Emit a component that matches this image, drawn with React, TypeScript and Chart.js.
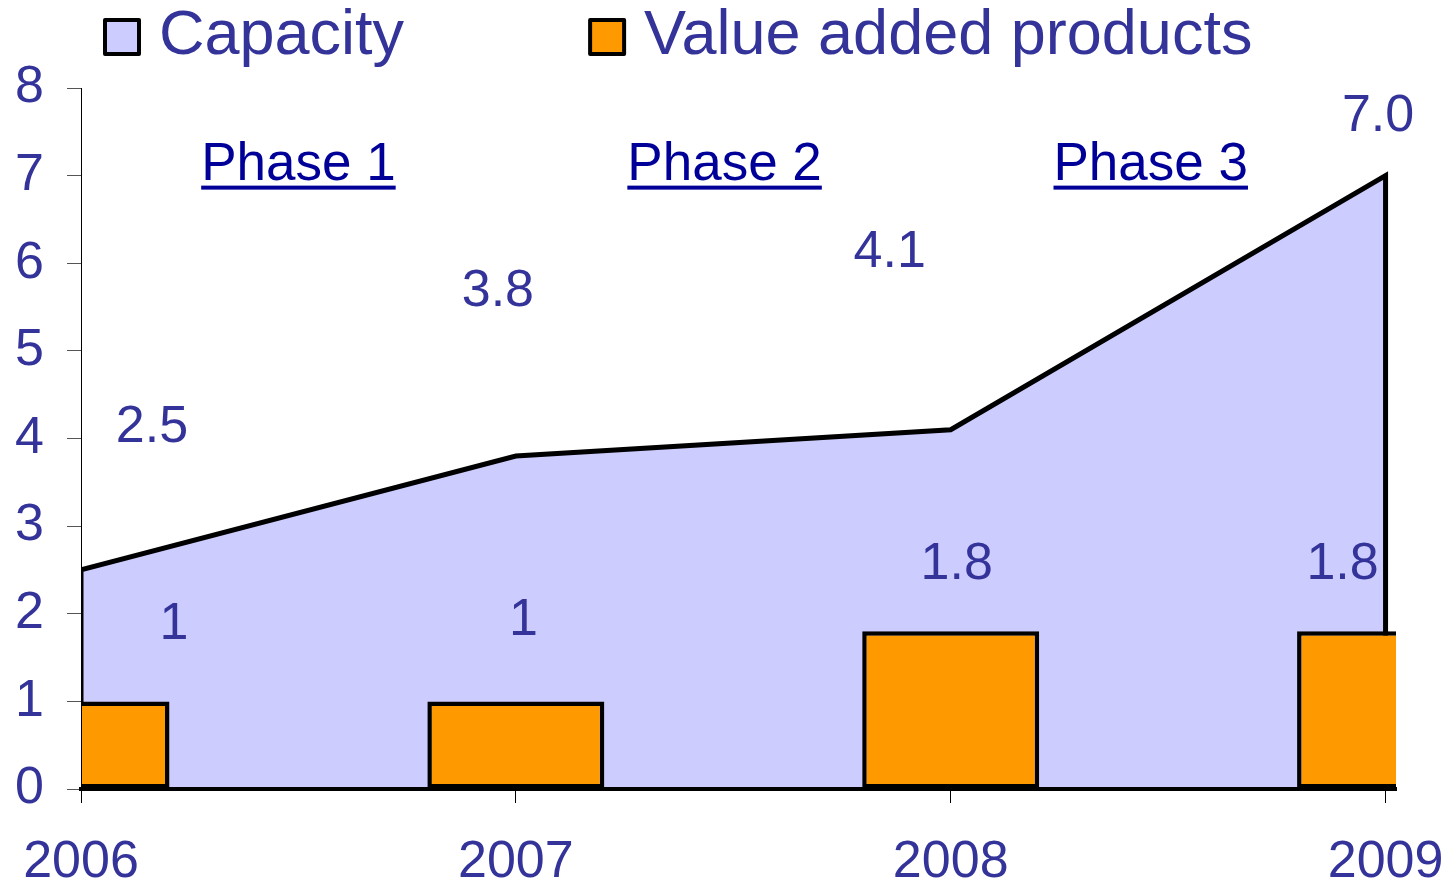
import { useEffect, useRef } from 'react';
import { Chart, registerables } from 'chart.js';

Chart.register(...registerables);

// ---- data ----
const years = [2006, 2007, 2008, 2009];
const capacity = [2.5, 3.8, 4.1, 7.0];
const valueAdded = [1, 1, 1.8, 1.8];
const seriesNames = ['Capacity', 'Value added products'];
const yTickValues = [0, 1, 2, 3, 4, 5, 6, 7, 8];
const phaseNames = ['Phase 1', 'Phase 2', 'Phase 3'];
const phaseCentres = [2006.5, 2007.48, 2008.46];

// ---- style ----
const FONT = "'Liberation Sans', Arial, Helvetica, sans-serif";
const TEXT = '#333399';
const PHASE = '#000099';
const AREA = '#CCCCFF';
const BAR = '#FF9900';
// label offsets (px) from their mark
const capacityLabelOffsets = [[71, -146], [-18, -169], [-61, -181], [-7.5, -63]];
const valueLabelOffsets = [[93, -81], [7.5, -85], [6, -71], [-43, -71]];

const labelsPlugin = {
  id: 'valueLabels',
  afterDatasetsDraw(chart: any) {
    const { ctx, scales } = chart;
    const xs = scales.x;
    const ys = scales.y;
    ctx.save();
    ctx.font = `52px ${FONT}`;
    ctx.fillStyle = TEXT;
    ctx.textAlign = 'center';
    ctx.textBaseline = 'alphabetic';
    years.forEach((yr, i) => {
      const px = xs.getPixelForValue(yr);
      const pc = ys.getPixelForValue(capacity[i]);
      ctx.fillText(capacity[i].toFixed(1), px + capacityLabelOffsets[i][0], pc + capacityLabelOffsets[i][1] + 18.5);
      const pv = ys.getPixelForValue(valueAdded[i]);
      ctx.fillText(String(valueAdded[i]), px + valueLabelOffsets[i][0], pv + valueLabelOffsets[i][1] + 18.5);
    });
    // phase captions
    ctx.fillStyle = PHASE;
    ctx.font = `53px ${FONT}`;
    const base = ys.getPixelForValue(7) + 4;
    phaseNames.forEach((name, i) => {
      const cx = xs.getPixelForValue(phaseCentres[i]);
      ctx.fillText(name, cx, base);
      const w = ctx.measureText(name).width;
      ctx.fillRect(cx - w / 2, base + 6, w, 4);
    });
    ctx.restore();
  },
};

const legendPlugin = {
  id: 'boxLegend',
  afterDraw(chart: any) {
    const { ctx } = chart;
    ctx.save();
    let x = 103;
    const top = 18;
    const size = 38;
    chart.data.datasets.forEach((ds: any) => {
      ctx.fillStyle = ds.backgroundColor;
      ctx.strokeStyle = '#000';
      ctx.lineWidth = 4;
      ctx.lineJoin = 'round';
      ctx.fillRect(x + 2, top + 2, size - 4, size - 4);
      ctx.strokeRect(x + 2, top + 2, size - 4, size - 4);
      ctx.font = `63px ${FONT}`;
      ctx.fillStyle = TEXT;
      ctx.textAlign = 'left';
      ctx.textBaseline = 'alphabetic';
      const tx = x + size + 18;
      ctx.fillText(ds.label, tx, 54);
      x = tx + ctx.measureText(ds.label).width + 184;
    });
    ctx.restore();
  },
};

export default function App() {
  const ref = useRef<HTMLCanvasElement | null>(null);
  useEffect(() => {
    if (!ref.current) return;
    const capacityPoints = [
      { x: years[0], y: 0 },
      ...years.map((yr, i) => ({ x: yr, y: capacity[i] })),
      { x: years[years.length - 1], y: 0 },
    ];
    const chart = new Chart(ref.current, {
      type: 'bar',
      data: {
        datasets: [
          {
            type: 'line',
            label: seriesNames[0],
            data: capacityPoints,
            backgroundColor: AREA,
            borderColor: '#000',
            borderWidth: 5,
            borderJoinStyle: 'miter',
            fill: 'origin',
            pointRadius: 0,
            tension: 0,
            clip: 0,
            order: 2,
          } as any,
          {
            type: 'bar',
            label: seriesNames[1],
            data: years.map((yr, i) => ({ x: yr, y: valueAdded[i] })),
            backgroundColor: BAR,
            borderColor: '#000',
            borderWidth: 4.5,
            borderSkipped: false,
            barPercentage: 1,
            categoryPercentage: 0.407,
            clip: 0,
            order: 1,
          } as any,
        ],
      },
      options: {
        animation: false,
        responsive: true,
        maintainAspectRatio: false,
        events: [],
        layout: { padding: { top: 88, right: 56, bottom: 0, left: 0 } },
        plugins: { legend: { display: false }, tooltip: { enabled: false } },
        scales: {
          x: {
            type: 'linear',
            offset: false,
            min: 2006,
            max: 2009.024,
            afterBuildTicks: (s: any) => {
              s.ticks = years.map((v) => ({ value: v }));
            },
            afterFit: (s: any) => {
              s.height = 94;
              s.paddingLeft = 0;
              s.paddingRight = 0;
            },
            grid: { offset: false, drawOnChartArea: false, drawTicks: true, tickLength: 14, color: '#000', lineWidth: 1 },
            border: { display: true, color: '#000', width: 4, z: 1 },
            ticks: {
              padding: 28,
              color: TEXT,
              font: { family: FONT, size: 52 },
              maxRotation: 0,
              autoSkip: false,
              callback: (v: any) => String(v),
            },
          },
          y: {
            type: 'linear',
            min: 0,
            max: 8,
            afterBuildTicks: (s: any) => {
              s.ticks = yTickValues.map((v) => ({ value: v }));
            },
            afterFit: (s: any) => {
              s.width = 81;
              s.paddingTop = 0;
              s.paddingBottom = 0;
            },
            grid: { drawOnChartArea: false, drawTicks: true, tickLength: 14, color: '#555', lineWidth: 1 },
            border: { display: true, color: '#000', width: 1, z: 1 },
            ticks: {
              padding: 23,
              color: TEXT,
              font: { family: FONT, size: 52 },
              callback: (v: any) => String(v),
            },
          },
        },
      },
      plugins: [labelsPlugin, legendPlugin],
    });
    return () => chart.destroy();
  }, []);
  return (
    <div style={{ position: 'fixed', left: 0, top: 0, width: '100vw', height: '100vh', background: '#fff' }}>
      <canvas ref={ref} />
    </div>
  );
}
